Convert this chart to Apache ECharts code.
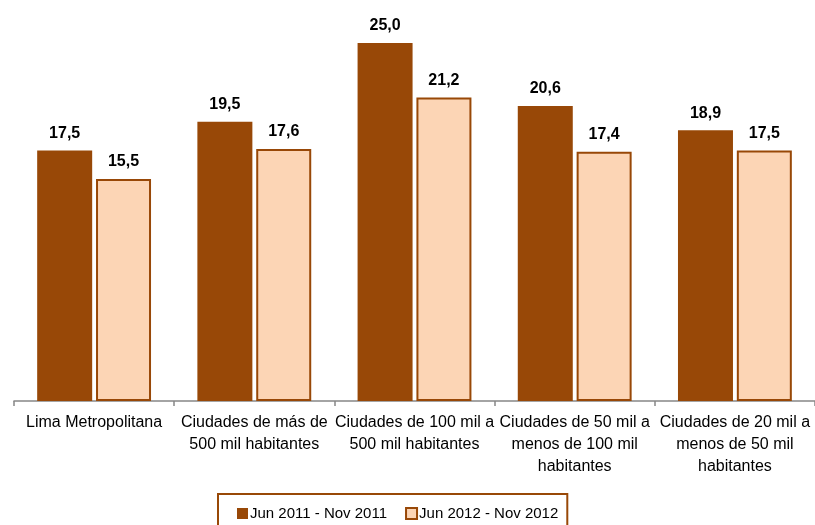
<!DOCTYPE html>
<html>
<head>
<meta charset="utf-8">
<script src="https://cdn.jsdelivr.net/npm/echarts@6/dist/echarts.min.js"></script>
<style>
  html, body { margin: 0; padding: 0; background: #fff; }
  #chart { width: 815px; height: 525px; }
</style>
</head>
<body>
<div id="chart"></div>
<script>
const categories = [
  "Lima Metropolitana",
  "Ciudades de más de\n500 mil habitantes",
  "Ciudades de 100 mil a\n500 mil habitantes",
  "Ciudades de 50 mil a\nmenos de 100 mil\nhabitantes",
  "Ciudades de 20 mil a\nmenos de 50 mil\nhabitantes",
];
const seriesNames = ["Jun 2011 - Nov 2011", "Jun 2012 - Nov 2012"];
const values2011 = [17.5, 19.5, 25.0, 20.6, 18.9];
const values2012 = [15.5, 17.6, 21.2, 17.4, 17.5];

const font = "'Liberation Sans Narrow', 'Arial Narrow', 'Liberation Sans', sans-serif";
const brown = "#984807";
const peach = "#fcd5b5";

const chart = echarts.init(document.getElementById("chart"));

// decimal comma, one digit
const fmt = (p) => p.value.toFixed(1).replace(".", ",");

const valueLabel = {
  show: true,
  position: "top",
  distance: 9,
  formatter: fmt,
  fontFamily: font,
  fontSize: 16,
  fontWeight: "bold",
  color: "#000",
};

chart.setOption({
  animation: false,
  textStyle: { fontFamily: font },
  grid: { left: 14, right: 0, top: 0, bottom: 124 },
  legend: {
    top: 494,
    left: 218,
    icon: "rect",
    itemWidth: 11,
    itemHeight: 11,
    itemGap: 18,
    padding: [12, 9, 14, 19],
    borderColor: brown,
    borderWidth: 2,
    textStyle: { fontFamily: font, fontSize: 15, color: "#000", padding: [0, 0, 0, -3] },
    data: seriesNames,
  },
  xAxis: {
    type: "category",
    data: categories,
    axisLine: { lineStyle: { color: "#868686", width: 1.5 } },
    axisTick: { show: true, length: 5, lineStyle: { color: "#868686", width: 1.5 } },
    axisLabel: {
      interval: 0,
      margin: 11,
      fontFamily: font,
      fontSize: 16,
      color: "#000",
      lineHeight: 22,
    },
  },
  yAxis: {
    type: "value",
    min: 0,
    max: 28,
    show: false,
    splitLine: { show: false },
  },
  series: [
    {
      name: seriesNames[0],
      type: "bar",
      data: values2011,
      barWidth: 55,
      barGap: "7%",
      itemStyle: { color: brown },
      label: valueLabel,
    },
    {
      name: seriesNames[1],
      type: "bar",
      data: values2012,
      barWidth: 55,
      itemStyle: { color: peach, borderColor: brown, borderWidth: 2 },
      label: valueLabel,
    },
  ],
});
</script>
</body>
</html>
